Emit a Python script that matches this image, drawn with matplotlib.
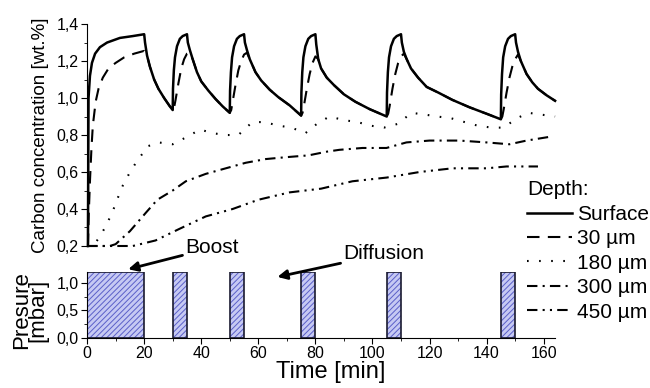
import matplotlib
matplotlib.use('Agg')
import matplotlib.pyplot as plt
from matplotlib.ticker import MultipleLocator, FuncFormatter

plt.rcParams['font.family'] = ['Liberation Sans', 'DejaVu Sans']
plt.rcParams['hatch.linewidth'] = 0.7

# carbon concentration profiles, time in min
surf_t = [0.3, 0.5, 1, 1.7, 2.8, 4.5, 7, 11.5, 16, 20,
          20.3, 21, 22, 23.5, 25, 27, 29, 30,
          30.1, 30.4, 30.8, 31.5, 32.5, 33.5, 35,
          35.3, 36, 37, 38.5, 40, 42.5, 45, 47.5, 50,
          50.1, 50.4, 50.8, 51.5, 52.5, 53.5, 55,
          55.3, 56, 57, 59, 61, 64, 67, 71, 75,
          75.1, 75.4, 75.8, 76.5, 77.5, 78.5, 80,
          80.3, 81, 82, 84, 86.5, 90, 94, 99, 105,
          105.1, 105.4, 105.8, 106.5, 107.5, 108.5, 110,
          110.3, 111, 112, 113.5, 116, 119, 123, 128, 134, 140, 145,
          145.1, 145.4, 145.8, 146.5, 147.5, 148.5, 150,
          150.3, 151, 152, 154, 156, 158, 161, 164]
surf_c = [0.2, 1.0, 1.12, 1.19, 1.24, 1.275, 1.30, 1.325, 1.335, 1.345,
          1.30, 1.23, 1.17, 1.10, 1.05, 1.00, 0.955, 0.935,
          1.05, 1.15, 1.22, 1.28, 1.32, 1.335, 1.345,
          1.30, 1.26, 1.21, 1.14, 1.09, 1.04, 0.995, 0.955, 0.92,
          1.04, 1.14, 1.22, 1.28, 1.32, 1.335, 1.345,
          1.30, 1.26, 1.21, 1.14, 1.095, 1.045, 1.005, 0.96, 0.905,
          1.03, 1.14, 1.22, 1.28, 1.32, 1.335, 1.345,
          1.29, 1.21, 1.16, 1.11, 1.07, 1.02, 0.98, 0.94, 0.90,
          1.03, 1.14, 1.22, 1.28, 1.32, 1.335, 1.345,
          1.30, 1.25, 1.21, 1.16, 1.11, 1.06, 1.03, 0.99, 0.95, 0.915, 0.885,
          1.02, 1.13, 1.22, 1.28, 1.32, 1.335, 1.345,
          1.30, 1.25, 1.20, 1.13, 1.085, 1.05, 1.015, 0.985]

d30_t = [0.3, 0.6, 1, 1.5, 2, 3, 4, 5.5, 7.5, 10, 13, 16.5, 20,
         21, 22, 23.5, 25, 27, 29, 30,
         30.5, 31, 32, 33, 34, 35, 36, 37, 38.5, 40, 42.5, 45, 47.5, 50,
         50.5, 51, 52, 53, 54, 55, 56, 57, 59, 61, 64, 67, 71, 75,
         75.5, 76, 77, 78, 79, 80, 81, 82, 84, 86.5, 90, 94, 99, 105,
         105.5, 106, 107, 108, 109, 110, 111, 112, 113.5, 116, 119, 123, 128, 134, 140, 145,
         145.5, 146, 147, 148, 149, 150, 151, 152, 154, 156, 158, 161, 164]
d30_c = [0.2, 0.38, 0.55, 0.72, 0.85, 0.98, 1.05, 1.11, 1.16, 1.19, 1.22, 1.24, 1.255,
         1.23, 1.17, 1.10, 1.05, 1.00, 0.955, 0.935,
         0.95, 0.99, 1.08, 1.16, 1.21, 1.24, 1.245, 1.21, 1.14, 1.09, 1.04, 0.995, 0.955, 0.92,
         0.935, 0.98, 1.07, 1.15, 1.20, 1.235, 1.245, 1.21, 1.14, 1.095, 1.045, 1.005, 0.96, 0.905,
         0.92, 0.96, 1.05, 1.13, 1.19, 1.225, 1.21, 1.16, 1.11, 1.07, 1.02, 0.98, 0.94, 0.90,
         0.915, 0.955, 1.05, 1.13, 1.19, 1.225, 1.24, 1.21, 1.16, 1.11, 1.06, 1.03, 0.99, 0.95, 0.915, 0.885,
         0.90, 0.94, 1.03, 1.11, 1.17, 1.21, 1.235, 1.20, 1.13, 1.085, 1.05, 1.015, 0.985]

d180_t = [0, 2, 4, 6.3, 8.8, 10.5, 12.6, 14.7, 17.5, 21.4, 25, 30, 35, 39.6, 43.9,
          48.8, 53, 57.9, 62, 67.4, 71.6, 76.5, 80.5, 84.9, 90.2, 94.7, 99.6, 104,
          108.8, 113.7, 118.6, 122.8, 127.7, 132.3, 137, 141.8, 146, 150.5, 154.7,
          159.3, 164]
d180_c = [0.2, 0.2, 0.24, 0.30, 0.38, 0.45, 0.53, 0.59, 0.66, 0.74, 0.76, 0.75, 0.79, 0.83, 0.81,
          0.80, 0.80, 0.87, 0.87, 0.85, 0.84, 0.81, 0.86, 0.90, 0.88, 0.87, 0.85, 0.84,
          0.86, 0.92, 0.91, 0.90, 0.89, 0.87, 0.85, 0.84, 0.84, 0.89, 0.92,
          0.91, 0.90]

d300_t = [0, 8, 10, 15, 20.6, 24.6, 30, 34.6, 41.6, 48.6, 55.6, 62.6, 69.6, 77.6,
          84, 88.4, 96.5, 104.9, 111.9, 120, 130.5, 140, 148, 154, 162]
d300_c = [0.2, 0.2, 0.21, 0.28, 0.38, 0.45, 0.50, 0.55, 0.59, 0.62, 0.65, 0.67, 0.68, 0.69,
          0.71, 0.72, 0.73, 0.73, 0.76, 0.77, 0.77, 0.76, 0.75, 0.77, 0.79]

d450_t = [0, 4.6, 16, 24, 32, 41.6, 51, 60, 71, 82, 93, 105, 116.5, 128, 140, 147, 158]
d450_c = [0.2, 0.2, 0.2, 0.23, 0.29, 0.36, 0.40, 0.45, 0.49, 0.51, 0.55, 0.57, 0.60,
          0.62, 0.62, 0.63, 0.63]

# pressure pulses (boost phases)
pulse_start = [0, 30, 50, 75, 105, 145]
pulse_end = [20, 35, 55, 80, 110, 150]
pulse_p = [1.2, 1.2, 1.2, 1.2, 1.2, 1.2]

legend_labels = ['Surface', '30 \u00b5m', '180 \u00b5m', '300 \u00b5m', '450 \u00b5m']

comma = FuncFormatter(lambda v, pos: ('%.1f' % v).replace('.', ','))

fig = plt.figure(figsize=(6.5, 3.88), dpi=100)
ax1 = fig.add_axes([0.134, 0.366, 0.72, 0.572])
ax2 = fig.add_axes([0.134, 0.129, 0.72, 0.170])

lw = 1.5
ax1.plot(surf_t, surf_c, color='k', lw=1.8, label=legend_labels[0], clip_on=False)
ax1.plot(d30_t, d30_c, color='k', lw=lw, dashes=(6, 4), label=legend_labels[1], clip_on=False)
ax1.plot(d180_t, d180_c, color='k', lw=lw, dashes=(0.8, 5), label=legend_labels[2], clip_on=False)
ax1.plot(d300_t, d300_c, color='k', lw=lw, dashes=(5, 2.5, 1, 2.5), label=legend_labels[3], clip_on=False)
ax1.plot(d450_t, d450_c, color='k', lw=lw, dashes=(5, 2.5, 1, 2.5, 1, 2.5), label=legend_labels[4], clip_on=False)

ax1.set_xlim(0, 164)
ax1.set_ylim(0.2, 1.4)
ax1.yaxis.set_major_locator(MultipleLocator(0.2))
ax1.yaxis.set_minor_locator(MultipleLocator(0.1))
ax1.yaxis.set_major_formatter(comma)
ax1.set_xticks([])
for s in ['top', 'right', 'bottom']:
    ax1.spines[s].set_visible(False)
ax1.tick_params(axis='y', which='major', direction='out', length=4, labelsize=11.5, pad=2)
ax1.tick_params(axis='y', which='minor', direction='out', length=2.5)
ax1.set_ylabel('Carbon concentration [wt.%]', fontsize=13.5)
ax1.yaxis.set_label_coords(-0.081, 0.5)

widths = [e - s for s, e in zip(pulse_start, pulse_end)]
ax2.bar(pulse_start, pulse_p, width=widths, align='edge', color='#c6c9f3',
        edgecolor='#5a5fc8', hatch='//////', linewidth=0)
ax2.bar(pulse_start, pulse_p, width=widths, align='edge', fill=False,
        edgecolor='#1a1a30', linewidth=1.2)
ax2.set_xlim(0, 164)
ax2.set_ylim(0, 1.2)
ax2.xaxis.set_major_locator(MultipleLocator(20))
ax2.xaxis.set_minor_locator(MultipleLocator(10))
ax2.yaxis.set_major_locator(MultipleLocator(0.5))
ax2.yaxis.set_minor_locator(MultipleLocator(0.25))
ax2.yaxis.set_major_formatter(comma)
for s in ['top', 'right']:
    ax2.spines[s].set_visible(False)
ax2.tick_params(which='major', direction='out', length=4, labelsize=11.5, pad=2)
ax2.tick_params(which='minor', direction='out', length=2.5)
ax2.set_xlabel('Time [min]', fontsize=17)
ax2.xaxis.set_label_coords(0.52, -0.35)
ax2.xaxis.label.set_va('top')
ax2.set_ylabel('Presure\n[mbar]', fontsize=16, linespacing=0.7)
ax2.yaxis.set_label_coords(-0.082, 0.42)

arrow = dict(arrowstyle='-|>', color='k', lw=2, mutation_scale=14, shrinkA=0, shrinkB=0)
ax2.annotate('Boost', xy=(14.4, 1.25), xytext=(34.4, 1.64), fontsize=15,
             ha='left', va='center', arrowprops=arrow, annotation_clip=False)
ax2.annotate('Diffusion', xy=(66.7, 1.11), xytext=(89.8, 1.53), fontsize=15,
             ha='left', va='center', arrowprops=arrow, annotation_clip=False)

handles, labels = ax1.get_legend_handles_labels()
leg = fig.legend(handles, labels, title='Depth:', loc='upper left',
                 bbox_to_anchor=(0.811, 0.535), frameon=False, fontsize=15,
                 title_fontsize=15, handlelength=2.16, handletextpad=0.24,
                 labelspacing=0.26, borderpad=0, borderaxespad=0,
                 alignment='left')

fig.savefig('out.png', dpi=100)
